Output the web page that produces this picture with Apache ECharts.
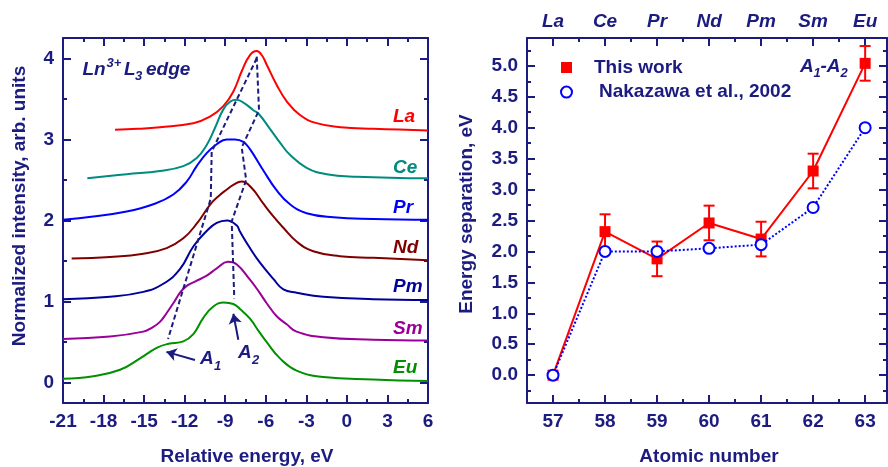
<!DOCTYPE html>
<html>
<head>
<meta charset="utf-8">
<script src="https://cdn.jsdelivr.net/npm/echarts@6/dist/echarts.min.js"></script>
<style>
  html, body { margin: 0; padding: 0; background: #fff; }
  #chart { width: 888px; height: 467px; }
</style>
</head>
<body>
<div id="chart"></div>
<script>
// L3-edge spectra: [relative energy (eV), normalized intensity], each stacked with its own offset
const specLa = [[-17.15,3.12],[-15.5,3.13],[-13.83,3.15],[-11.36,3.20],[-10.13,3.28],[-9.14,3.41],[-8.40,3.59],[-7.78,3.84],[-7.17,4.04],[-6.67,4.09],[-6.3,4.04],[-5.93,3.92],[-5.19,3.67],[-4.45,3.47],[-3.47,3.30],[-2.24,3.20],[-0.47,3.15],[1.95,3.13],[6,3.11]];
const specCe = [[-19.2,2.52],[-16.29,2.57],[-13.83,2.61],[-12.1,2.67],[-11.11,2.77],[-10.37,2.93],[-9.76,3.14],[-9.14,3.37],[-8.6,3.47],[-8.16,3.49],[-7.54,3.44],[-6.92,3.36],[-6.5,3.31],[-5.69,3.13],[-4.95,2.96],[-4.21,2.81],[-2.98,2.65],[-1.5,2.57],[0.72,2.54],[6,2.52]];
const specPr = [[-21,2.01],[-18.76,2.05],[-16.29,2.11],[-14.32,2.20],[-12.84,2.32],[-11.85,2.48],[-11.11,2.67],[-10.37,2.83],[-9.63,2.94],[-8.89,3.0],[-8.28,3.0],[-7.66,2.97],[-7.17,2.88],[-6.19,2.62],[-5.19,2.37],[-4.21,2.20],[-2.98,2.09],[-1.0,2.04],[1.95,2.02],[6,2.01]];
const specNd = [[-20.36,1.53],[-17.52,1.55],[-15.06,1.59],[-13.33,1.66],[-12.1,1.78],[-11.11,1.96],[-10.1,2.2],[-9.5,2.3],[-8.9,2.38],[-8.4,2.44],[-7.78,2.48],[-7.04,2.40],[-6.19,2.21],[-5.44,2.05],[-4.70,1.91],[-3.72,1.74],[-2.49,1.62],[-0.52,1.56],[1.95,1.54],[6,1.51]];
const specPm = [[-21,1.03],[-17.52,1.06],[-15.06,1.12],[-13.58,1.22],[-12.35,1.40],[-11.36,1.68],[-10.37,1.87],[-9.63,1.97],[-8.87,2.0],[-8.16,1.94],[-7.9,1.86],[-7.17,1.66],[-6.43,1.48],[-5.44,1.28],[-4.7,1.15],[-3.72,1.11],[-1.75,1.06],[1.95,1.03],[6,1.02]];
const specSm = [[-21,0.54],[-17.52,0.57],[-15.06,0.63],[-14.4,0.68],[-13.83,0.75],[-13.33,0.86],[-12.84,0.98],[-12.3,1.12],[-11.8,1.20],[-11.2,1.25],[-10.37,1.32],[-9.63,1.41],[-8.8,1.49],[-8.16,1.46],[-7.17,1.27],[-6.5,1.12],[-5.93,0.98],[-5.19,0.82],[-4.45,0.72],[-3.72,0.63],[-1.75,0.56],[1.95,0.53],[6,0.52]];
const specEu = [[-21,0.05],[-18.76,0.08],[-16.78,0.16],[-15.3,0.30],[-14.07,0.43],[-13.2,0.48],[-12.1,0.51],[-11.36,0.60],[-10.62,0.80],[-9.88,0.94],[-9.1,0.99],[-8.40,0.97],[-7.91,0.91],[-7.17,0.79],[-6.5,0.63],[-5.93,0.50],[-4.95,0.30],[-3.72,0.15],[-1.75,0.07],[1.95,0.04],[6,0.02]];

// guide lines tracing the A1 and A2 features across the spectra
const guideA1 = [[-6.67,4.0],[-10.0,2.85],[-10.07,2.27],[-13.23,0.54]];
const guideA2 = [[-6.67,4.02],[-6.5,3.36],[-7.78,2.9],[-7.45,2.5],[-8.52,1.99],[-8.33,1.04]];

// A1-A2 energy separation versus atomic number
const elements = ['La', 'Ce', 'Pr', 'Nd', 'Pm', 'Sm', 'Eu'];
const atomicNumbers = [57, 58, 59, 60, 61, 62, 63];
const sepThisWork = [0.0, 2.32, 1.88, 2.46, 2.20, 3.30, 5.04];
const sepThisWorkErr = [0, 0.28, 0.28, 0.28, 0.28, 0.28, 0.28];
const sepNakazawa = [0.0, 2.0, 2.0, 2.05, 2.11, 2.71, 4.0];

const yTicksLeft = [0, 1, 2, 3, 4];
const yMinorLeft = [0.5, 1.5, 2.5, 3.5];
const yTicksRight = [0, 0.5, 1, 1.5, 2, 2.5, 3, 3.5, 4, 4.5, 5];
const yMinorRight = [-0.25, 0.25, 0.75, 1.25, 1.75, 2.25, 2.75, 3.25, 3.75, 4.25, 4.75, 5.25];
const xMinorRight = [57.5, 58.5, 59.5, 60.5, 61.5, 62.5];

const navy = '#1b1b80';
const FONT = '"Liberation Sans", Arial, sans-serif';
const spectra = [specLa, specCe, specPr, specNd, specPm, specSm, specEu];
const specColors = ['#ff0000', '#008b80', '#0000ff', '#800000', '#00009a', '#990099', '#009000'];

const chart = echarts.init(document.getElementById('chart'), null, { renderer: 'canvas' });

const lbl = { color: navy, fontFamily: FONT, fontWeight: 'bold', fontSize: 19 };
const lineAx = { show: true, onZero: false, lineStyle: { color: navy, width: 2 } };
const noLine = { show: false, onZero: false };

function tickAx(extra) {
  return Object.assign({
    type: 'value', splitLine: { show: false }, axisLabel: { show: false }, axisLine: noLine
  }, extra);
}

const xAxes = [
  // left panel
  tickAx({ gridIndex: 0, position: 'bottom', min: -21, max: 6, interval: 3, axisLine: lineAx,
    axisLabel: Object.assign({ show: true, margin: 9 }, lbl),
    axisTick: { inside: true, length: 8, lineStyle: { color: navy, width: 2 } },
    minorTick: { show: true, splitNumber: 2, length: 4, lineStyle: { color: navy, width: 2 } } }),
  tickAx({ gridIndex: 0, position: 'top', min: -21, max: 6, interval: 3, axisLine: lineAx,
    axisTick: { inside: true, length: 8, lineStyle: { color: navy, width: 2 } },
    minorTick: { show: true, splitNumber: 2, length: 4, lineStyle: { color: navy, width: 2 } } }),
  // right panel
  tickAx({ gridIndex: 1, position: 'bottom', min: 56.5, max: 63.42, axisLine: lineAx,
    axisLabel: Object.assign({ show: true, margin: 9, customValues: atomicNumbers }, lbl),
    axisTick: { inside: true, length: 8, customValues: atomicNumbers, lineStyle: { color: navy, width: 2 } } }),
  tickAx({ gridIndex: 1, position: 'bottom', min: 56.5, max: 63.42,
    axisTick: { inside: true, length: 4, customValues: xMinorRight, lineStyle: { color: navy, width: 2 } } }),
  tickAx({ gridIndex: 1, position: 'top', min: 56.5, max: 63.42, axisLine: lineAx,
    axisLabel: Object.assign({ show: true, margin: 7, customValues: atomicNumbers,
      formatter: v => elements[atomicNumbers.indexOf(Math.round(v))] }, lbl, { fontStyle: 'italic' }),
    axisTick: { inside: true, length: 8, customValues: atomicNumbers, lineStyle: { color: navy, width: 2 } } }),
  tickAx({ gridIndex: 1, position: 'top', min: 56.5, max: 63.42,
    axisTick: { inside: true, length: 4, customValues: xMinorRight, lineStyle: { color: navy, width: 2 } } })
];

const yAxes = [
  // left panel
  tickAx({ gridIndex: 0, position: 'left', min: -0.25, max: 4.25, axisLine: lineAx,
    axisLabel: Object.assign({ show: true, margin: 9, customValues: yTicksLeft }, lbl),
    axisTick: { inside: true, length: 8, customValues: yTicksLeft, lineStyle: { color: navy, width: 2 } } }),
  tickAx({ gridIndex: 0, position: 'left', min: -0.25, max: 4.25,
    axisTick: { inside: true, length: 4, customValues: yMinorLeft, lineStyle: { color: navy, width: 2 } } }),
  tickAx({ gridIndex: 0, position: 'right', min: -0.25, max: 4.25, axisLine: lineAx,
    axisTick: { inside: true, length: 8, customValues: yTicksLeft, lineStyle: { color: navy, width: 2 } } }),
  tickAx({ gridIndex: 0, position: 'right', min: -0.25, max: 4.25,
    axisTick: { inside: true, length: 4, customValues: yMinorLeft, lineStyle: { color: navy, width: 2 } } }),
  // right panel
  tickAx({ gridIndex: 1, position: 'left', min: -0.45, max: 5.45, axisLine: lineAx,
    axisLabel: Object.assign({ show: true, margin: 9, customValues: yTicksRight, formatter: v => v.toFixed(1) }, lbl),
    axisTick: { inside: true, length: 8, customValues: yTicksRight, lineStyle: { color: navy, width: 2 } } }),
  tickAx({ gridIndex: 1, position: 'left', min: -0.45, max: 5.45,
    axisTick: { inside: true, length: 4, customValues: yMinorRight, lineStyle: { color: navy, width: 2 } } }),
  tickAx({ gridIndex: 1, position: 'right', min: -0.45, max: 5.45, axisLine: lineAx,
    axisTick: { inside: true, length: 8, customValues: yTicksRight, lineStyle: { color: navy, width: 2 } } }),
  tickAx({ gridIndex: 1, position: 'right', min: -0.45, max: 5.45,
    axisTick: { inside: true, length: 4, customValues: yMinorRight, lineStyle: { color: navy, width: 2 } } })
];

const series = [];
spectra.forEach((spec, i) => {
  series.push({
    type: 'line', xAxisIndex: 0, yAxisIndex: 0, data: spec, showSymbol: false, silent: true,
    smooth: 0.45,
    lineStyle: { color: specColors[i], width: 2 }, z: 2
  });
});

const dashStyle = { color: navy, width: 2, type: [5, 3] };
series.push({
  type: 'line', xAxisIndex: 0, yAxisIndex: 0, data: guideA1, showSymbol: false, silent: true,
  lineStyle: dashStyle, z: 3,
  markLine: {
    silent: true, symbol: ['none', 'arrow'], symbolSize: 10, label: { show: false },
    lineStyle: { color: navy, width: 2, type: 'solid' },
    data: [
      [{ coord: [-11.24, 0.28] }, { coord: [-13.35, 0.38] }],
      [{ coord: [-8.03, 0.53] }, { coord: [-8.40, 0.85] }]
    ]
  }
});
series.push({
  type: 'line', xAxisIndex: 0, yAxisIndex: 0, data: guideA2, showSymbol: false, silent: true,
  lineStyle: dashStyle, z: 3
});

// error bars for this work
series.push({
  type: 'custom', xAxisIndex: 2, yAxisIndex: 4, silent: true, z: 3,
  data: atomicNumbers.map((z, i) => [z, sepThisWork[i] - sepThisWorkErr[i], sepThisWork[i] + sepThisWorkErr[i]])
    .filter((d, i) => sepThisWorkErr[i] > 0),
  renderItem: (params, api) => {
    const top = api.coord([api.value(0), api.value(2)]);
    const bot = api.coord([api.value(0), api.value(1)]);
    const hw = 5.5;
    const st = { stroke: '#ff0000', lineWidth: 2 };
    return {
      type: 'group', children: [
        { type: 'line', shape: { x1: top[0], y1: top[1], x2: bot[0], y2: bot[1] }, style: st },
        { type: 'line', shape: { x1: top[0] - hw, y1: top[1], x2: top[0] + hw, y2: top[1] }, style: st },
        { type: 'line', shape: { x1: bot[0] - hw, y1: bot[1], x2: bot[0] + hw, y2: bot[1] }, style: st }
      ]
    };
  }
});
series.push({
  name: 'This work', type: 'line', xAxisIndex: 2, yAxisIndex: 4,
  data: atomicNumbers.map((z, i) => [z, sepThisWork[i]]),
  symbol: 'rect', symbolSize: 11, showSymbol: true,
  itemStyle: { color: '#ff0000' }, lineStyle: { color: '#ff0000', width: 2 }, z: 4
});
series.push({
  name: 'Nakazawa et al., 2002', type: 'line', xAxisIndex: 2, yAxisIndex: 4,
  data: atomicNumbers.map((z, i) => [z, sepNakazawa[i]]),
  symbol: 'circle', symbolSize: 11, showSymbol: true,
  itemStyle: { color: '#ffffff', borderColor: '#0000ff', borderWidth: 2 },
  lineStyle: { color: '#0000ff', width: 2, type: [2, 2] }, z: 5
});

function txt(x, y, text, opts) {
  const o = Object.assign({ size: 19, italic: false, color: navy, align: 'left', rot: 0 }, opts || {});
  const font = (o.italic ? 'italic ' : '') + 'bold ' + o.size + 'px ' + FONT;
  return {
    type: 'text', x: x, y: y, rotation: o.rot, silent: true, z: 10,
    style: { text: text, fill: o.color, font: font, align: o.align, verticalAlign: 'middle',
      textAlign: o.align, textVerticalAlign: 'middle' }
  };
}

const labelY = [116.3, 167.3, 208, 247.3, 286.7, 328.3, 367.7];
const graphics = [
  txt(20, 206, 'Normalized intensity, arb. units', { align: 'center', rot: Math.PI / 2 }),
  txt(247, 457, 'Relative energy, eV', { align: 'center' }),
  txt(467, 214, 'Energy separation, eV', { align: 'center', rot: Math.PI / 2 }),
  txt(709, 457, 'Atomic number', { align: 'center' }),
  // Ln3+ L3 edge
  txt(82.5, 69.5, 'Ln', { italic: true }),
  txt(106.5, 63, '3+', { italic: true, size: 13 }),
  txt(124, 69.5, 'L', { italic: true }),
  txt(135, 76, '3', { italic: true, size: 13 }),
  txt(146, 69.5, 'edge', { italic: true }),
  // A1, A2 markers
  txt(200, 359, 'A', { italic: true }),
  txt(214, 366, '1', { italic: true, size: 13 }),
  txt(238, 353, 'A', { italic: true }),
  txt(252, 360, '2', { italic: true, size: 13 }),
  // A1-A2 label
  txt(800, 66.7, 'A', { italic: true }),
  txt(813.5, 73, '1', { italic: true, size: 13 }),
  txt(820.5, 66.7, '-A', { italic: true }),
  txt(840.5, 73, '2', { italic: true, size: 13 })
];
elements.forEach((el, i) => {
  graphics.push(txt(393, labelY[i], el, { italic: true, color: specColors[i] }));
});

chart.setOption({
  animation: false,
  backgroundColor: '#ffffff',
  grid: [
    { left: 63, right: 460, top: 38, bottom: 64 },
    { left: 527, right: 1, top: 38, bottom: 64 }
  ],
  xAxis: xAxes,
  yAxis: yAxes,
  legend: {
    orient: 'vertical', left: 560, top: 58, padding: 0, itemWidth: 11, itemHeight: 11, itemGap: 5.6,
    selectedMode: false,
    textStyle: { color: navy, fontFamily: FONT, fontWeight: 'bold', fontSize: 19, padding: [0, 0, 0, 17] },
    data: [
      { name: 'This work', icon: 'rect', itemStyle: { color: '#ff0000', borderWidth: 0 } },
      { name: 'Nakazawa et al., 2002', icon: 'circle',
        itemStyle: { color: '#ffffff', borderColor: '#0000ff', borderWidth: 2 },
        textStyle: { padding: [0, 0, 0, 22] } }
    ]
  },
  series: series,
  graphic: graphics
});
</script>
</body>
</html>
